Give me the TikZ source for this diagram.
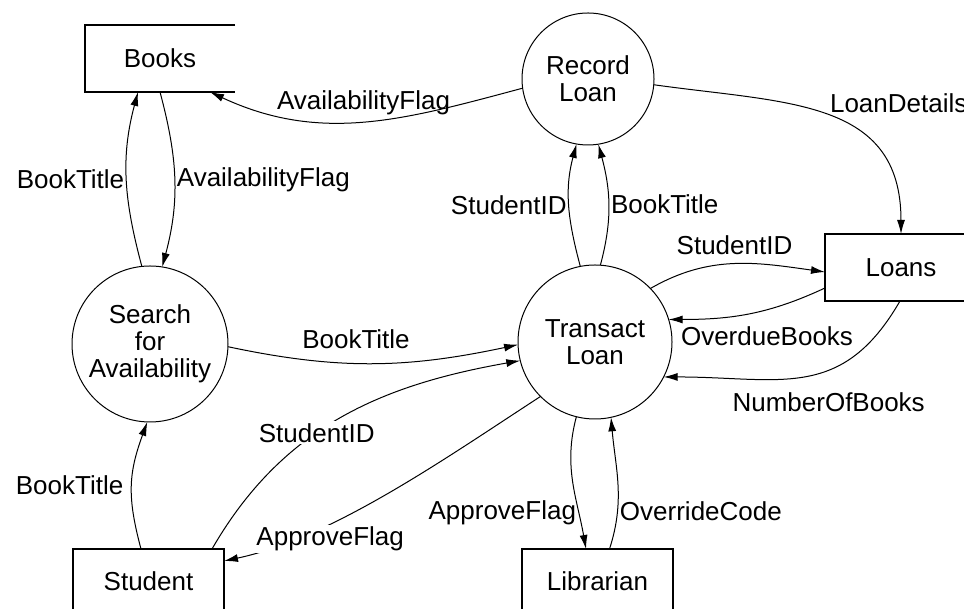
\documentclass[tikz,border=0pt]{standalone}
\usepackage{fontspec}
\setmainfont{Liberation Sans}
\usetikzlibrary{arrows.meta,calc}
\tikzset{
  proc/.style={draw, circle, inner sep=0pt, outer sep=0pt, line width=1pt, align=center},
  box/.style={draw, rectangle, inner sep=0pt, outer sep=0pt, line width=1.2pt,
    minimum width=151pt, minimum height=67pt},
  flow/.style={-{Latex[length=14pt,width=8pt]}, line width=1pt},
  lbl/.style={inner sep=2pt},
}
\begin{document}
\begin{tikzpicture}[x=1pt, y=1pt, font=\fontsize{26}{27}\selectfont]
\useasboundingbox (0,0) rectangle (964,609);
\clip (0,0) rectangle (964,609);

% processes
\node[proc, minimum size=132pt] (record) at (588,530) {Record\\Loan};
\node[proc, minimum size=156pt] (search) at (150,265) {Search\\for\\Availability};
\node[proc, minimum size=154pt] (transact) at (595,267) {Transact\\Loan};

% stores and entities
\node[box, draw=none, minimum width=150pt] (books) at (160,550.5) {Books};
\draw[line width=1.2pt] (books.north east) -- (books.north west) -- (books.south west) -- (books.south east);
\node[box, minimum width=152pt] (loans) at (901,341.5) {Loans};
\node[box, minimum height=64pt] (student) at (148.5,28) {Student};
\node[box, minimum height=64pt] (librarian) at (597.5,28) {Librarian};

% flows
\draw[flow] (record.188) to[out=195, in=-25] node[lbl, above=4pt] {AvailabilityFlag} ($(books.south east)+(-25,0)$);
\draw[flow] (record.-5) to[out=-8, in=90, looseness=1.2] node[lbl, above right] {LoanDetails} (loans.north);
\draw[flow] (search.96) to[out=105, in=-105] node[lbl, left] {BookTitle} ($(books.south)+(-22,0)$);
\draw[flow] (books.south) to[out=-75, in=75] node[lbl, right] {AvailabilityFlag} (search.81);
\draw[flow] (search.-2) to[out=-12, in=192] node[lbl, above=12pt, xshift=-17pt] {BookTitle} (transact.182);
\draw[flow] ($(student.north east)+(-12,0)$) to[out=60, in=190] node[lbl, pos=0.42, fill=white] {StudentID} (transact.194);
\draw[flow] (transact.225) to[out=213, in=12, looseness=0.8] node[lbl, pos=0.72, fill=white, xshift=14pt, yshift=-9pt] {ApproveFlag} ($(student.north east)+(0,-12)$);
\draw[flow] (transact.101) to[out=105, in=-105] node[lbl, left] {StudentID} (record.260);
\draw[flow] (transact.86) to[out=75, in=-75] node[lbl, right] {BookTitle} (record.-81);
\draw[flow] (transact.44) to[out=30, in=172] node[lbl, above=7pt] {StudentID} ($(loans.north west)+(0,-38)$);
\draw[flow] ($(loans.south west)+(0,13)$) to[out=205, in=0] node[lbl, below=11pt, xshift=18pt] {OverdueBooks} (transact.17);
\draw[flow] ($(loans.south west)+(75,0)$) to[out=240, in=0, looseness=1.2] node[lbl, below=13pt, xshift=25pt] {NumberOfBooks} (transact.-27);
\draw[flow] (transact.256) to[out=-105, in=100] node[lbl, left, pos=0.74] {ApproveFlag} ($(librarian.north)+(-11.5,0)$);
\draw[flow] ($(librarian.north)+(12,0)$) to[out=72, in=-85] node[lbl, right, pos=0.28] {OverrideCode} (transact.-78);
\draw[flow] ($(student.north)+(-7.5,0)$) to[out=105, in=-110, looseness=1.1] node[lbl, left, xshift=-6pt] {BookTitle} (search.-92);
\end{tikzpicture}
\end{document}
